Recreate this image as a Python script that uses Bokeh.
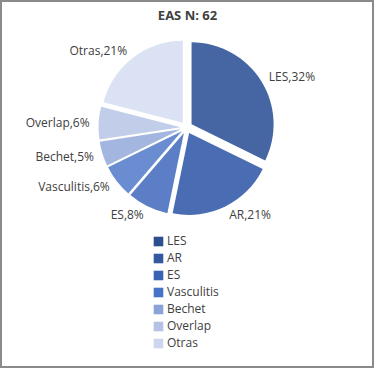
import math
from bokeh.plotting import figure
from bokeh.models import ColumnDataSource, Range1d, Legend, LegendItem
from bokeh.core.properties import value
from bokeh.embed import file_html
from bokeh.resources import INLINE

# ---- data ----
title_text = "EAS N: 62"
categories = ["LES", "AR", "ES", "Vasculitis", "Bechet", "Overlap", "Otras"]
counts = [20, 13, 5, 4, 3, 4, 13]
slice_colors = ["#4565a3", "#4a6cb2", "#5b7ec6", "#6a8dd2", "#a3b6df", "#c2cde9", "#dbe2f3"]
legend_colors = ["#2c4e8e", "#3458a0", "#3a62b4", "#4672c8", "#8ba3d6", "#b5c2e4", "#cdd6ee"]

# ---- layout ----
W, H = 374, 368
CX, CY = 186, H - 127
R = 82
EXPLODE = 6
LABEL_R = 97
FONT = "Open Sans"
TXT = "#404040"

total = sum(counts)
starts, ends, xs, ys = [], [], [], []
lx, ly, ltxt, lside = [], [], [], []
acc = 0.0
for cat, c in zip(categories, counts):
    th1 = acc / total * 2 * math.pi
    acc += c
    th2 = acc / total * 2 * math.pi
    mid = (th1 + th2) / 2
    starts.append(math.pi / 2 - th2)
    ends.append(math.pi / 2 - th1)
    xs.append(CX + EXPLODE * math.sin(mid))
    ys.append(CY + EXPLODE * math.cos(mid))
    lx.append(CX + LABEL_R * math.sin(mid))
    ly.append(CY + LABEL_R * math.cos(mid))
    ltxt.append(f"{cat},{round(100 * c / total)}%")
    lside.append("left" if math.sin(mid) >= 0 else "right")

src = ColumnDataSource(dict(x=xs, y=ys, start=starts, end=ends, color=slice_colors, cat=categories))

p = figure(width=W, height=H, x_range=Range1d(0, W), y_range=Range1d(0, H),
           output_backend="svg", toolbar_location=None,
           x_axis_type=None, y_axis_type=None, min_border=0)
p.outline_line_color = "#8a8a8a"
p.outline_line_width = 3
p.background_fill_color = "white"
p.border_fill_color = "white"

p.wedge(x="x", y="y", radius=R, start_angle="start", end_angle="end",
        direction="anticlock", fill_color="color", line_color=None, source=src)

for side in ("left", "right"):
    idx = [i for i, s in enumerate(lside) if s == side]
    p.text(x=[lx[i] for i in idx], y=[ly[i] for i in idx], text=[ltxt[i] for i in idx],
           text_align=side, text_baseline="middle", text_font=value(FONT),
           text_font_size="12px", text_color=TXT)

p.text(x=[W / 2], y=[H - 14], text=[title_text], text_align="center", text_baseline="middle",
       text_font=value(FONT), text_font_size="13px", text_font_style="bold", text_color=TXT)

# legend proxies (kept outside the visible range; only their legend swatches show)
items = []
for cat, col in zip(categories, legend_colors):
    r = p.quad(left=[-60], right=[-50], top=[-50], bottom=[-60], fill_color=col, line_color=None)
    items.append(LegendItem(label=cat, renderers=[r]))

legend = Legend(items=items, location=(152, 17), orientation="vertical",
                glyph_width=12, glyph_height=12, label_standoff=3, spacing=0,
                padding=0, margin=0, border_line_color=None, background_fill_alpha=0,
                label_text_font=FONT, label_text_font_size="12px", label_text_color=TXT)
p.add_layout(legend)

open("out.html", "w").write(file_html(p, INLINE))
